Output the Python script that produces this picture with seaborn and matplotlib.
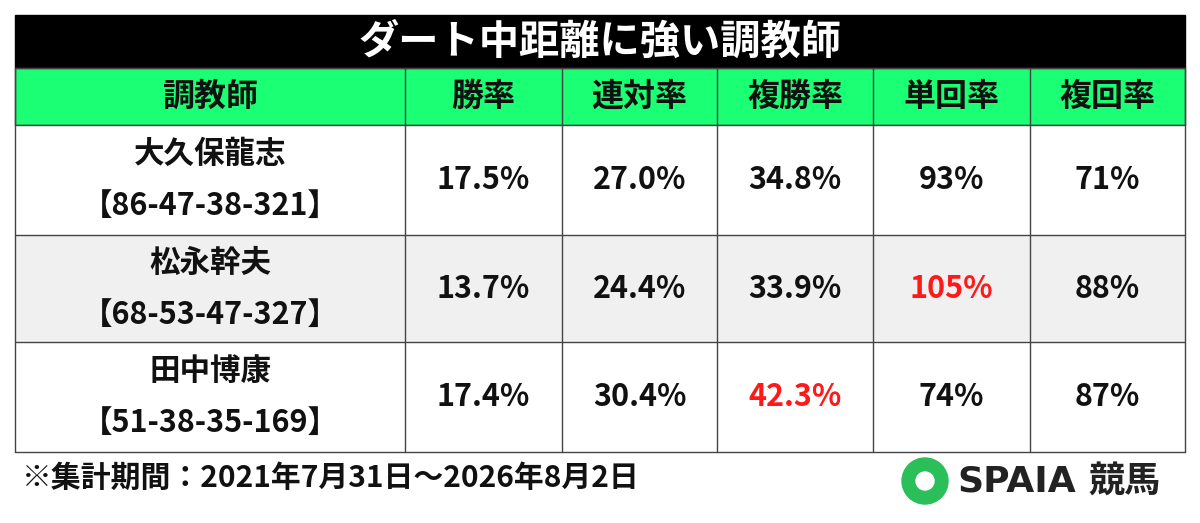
import matplotlib
matplotlib.use("Agg")
import matplotlib.pyplot as plt
import seaborn as sns
from matplotlib.patches import Rectangle, Circle

sns.set_theme(style="white")
plt.rcParams['font.family'] = ['Noto Sans CJK JP', 'DejaVu Sans']

title = "ダート中距離に強い調教師"
headers = ["調教師", "勝率", "連対率", "複勝率", "単回率", "複回率"]
trainers = ["大久保龍志", "松永幹夫", "田中博康"]
records = ["【86-47-38-321】", "【68-53-47-327】", "【51-38-35-169】"]
win = ["17.5%", "13.7%", "17.4%"]
quinella = ["27.0%", "24.4%", "30.4%"]
place = ["34.8%", "33.9%", "42.3%"]
win_ret = ["93%", "105%", "74%"]
place_ret = ["71%", "88%", "87%"]
red_cells = [(1, 4), (2, 3)]
footer = "※集計期間：2021年7月31日～2026年8月2日"

fig = plt.figure(figsize=(12, 5.23), dpi=100)
ax = fig.add_axes([0, 0, 1, 1])
ax.set_xlim(0, 1200); ax.set_ylim(523, 0); ax.axis("off")

cols = [15, 405, 562, 717, 873, 1030, 1185]
rows = [125, 235, 342, 452]
green = "#1aff74"

ax.add_patch(Rectangle((15, 15), 1170, 53, color="black"))
ax.text(600, 42, title, color="white", fontsize=29, fontweight="bold", ha="center", va="center")
ax.add_patch(Rectangle((15, 68), 1170, 57, facecolor=green, edgecolor="#333", lw=1))
for i, h in enumerate(headers):
    ax.text((cols[i] + cols[i+1]) / 2, 97, h, fontsize=23, fontweight="bold", ha="center", va="center", color="#111")

for r in range(3):
    y0, y1 = rows[r], rows[r+1]
    fc = "#f0f0f0" if r == 1 else "white"
    ax.add_patch(Rectangle((15, y0), 1170, y1 - y0, facecolor=fc, edgecolor="none"))
    ym = (y0 + y1) / 2
    ax.text(210, ym - 26, trainers[r], fontsize=22, fontweight="bold", ha="center", va="center", color="#111")
    ax.text(210, ym + 26, records[r], fontsize=22, fontweight="bold", ha="center", va="center", color="#111")
    vals = [win[r], quinella[r], place[r], win_ret[r], place_ret[r]]
    for c, v in enumerate(vals):
        color = "#ff1a1a" if (r, c + 1) in red_cells else "#111"
        ax.text((cols[c+1] + cols[c+2]) / 2, ym, v, fontsize=22, fontweight="bold", ha="center", va="center", color=color)

for x in cols:
    ax.plot([x, x], [68, 452], color="#444", lw=1)
for y in [68] + rows:
    ax.plot([15, 1185], [y, y], color="#444", lw=1)

ax.text(22, 478, footer, fontsize=21.5, fontweight="bold", ha="left", va="center", color="#111")

# logo
ax.add_patch(Circle((925, 481), 23, color="#2bbf5a"))
ax.add_patch(Circle((925, 481), 9, color="white"))
ax.text(957, 482, "SPAIA", fontsize=26, fontweight="bold", ha="left", va="center", color="#222", family="DejaVu Sans")
ax.text(1088, 481, "競馬", fontsize=26, fontweight="bold", ha="left", va="center", color="#222")

fig.savefig("out.png", dpi=100)
